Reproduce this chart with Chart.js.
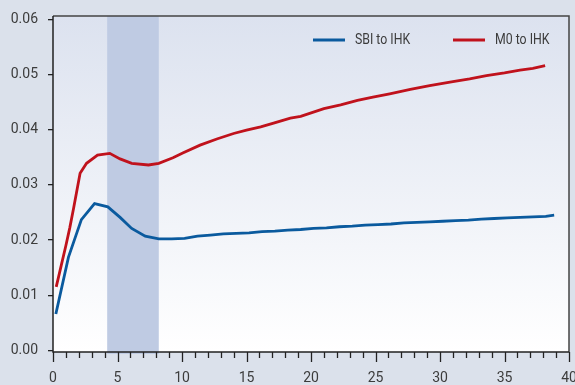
<!DOCTYPE html>
<html>
<head>
<meta charset="utf-8">
<script src="https://cdn.jsdelivr.net/npm/chart.js@4/dist/chart.umd.min.js"></script>
<style>
  html, body { margin: 0; padding: 0; background: #dbe1eb; }
  #wrap { width: 575px; height: 385px; }
</style>
</head>
<body>
<div id="wrap"><canvas id="c" width="575" height="385"></canvas></div>
<script>
// Horizon (x) and response values for each series
const sbiX = [0.22, 1.2, 2.2, 3.22, 4.25, 5.2, 6.1, 7.15, 8.2, 9.2, 10.2, 11.2, 12.2, 13.2, 14.2, 15.2, 16.2, 17.2, 18.2, 19.2, 20.2, 21.2, 22.2, 23.2, 24.2, 25.2, 26.2, 27.2, 28.2, 29.2, 30.2, 31.2, 32.2, 33.2, 34.2, 35.2, 36.2, 37.2, 38.2, 38.85];
const sbiY = [0.0066, 0.0169, 0.0237, 0.0266, 0.0260, 0.0241, 0.0221, 0.0207, 0.0202, 0.0202, 0.0203, 0.0207, 0.0209, 0.0211, 0.0212, 0.0213, 0.0215, 0.0216, 0.0218, 0.0219, 0.0221, 0.0222, 0.0224, 0.0225, 0.0227, 0.0228, 0.0229, 0.0231, 0.0232, 0.0233, 0.0234, 0.0235, 0.0236, 0.0238, 0.0239, 0.0240, 0.0241, 0.0242, 0.0243, 0.0245];

const m0X = [0.25, 0.64, 1.0, 1.3, 1.6, 2.1, 2.6, 3.45, 4.4, 5.2, 6.1, 7.4, 8.2, 9.3, 10.1, 11.4, 12.7, 14.0, 15.0, 16.1, 17.1, 18.4, 19.2, 21.0, 22.3, 23.6, 24.8, 26.1, 27.7, 29.2, 31.0, 32.3, 33.6, 35.0, 36.2, 37.2, 38.15];
const m0Y = [0.0115, 0.0154, 0.0190, 0.0222, 0.0258, 0.0321, 0.0339, 0.0354, 0.0357, 0.0347, 0.0339, 0.0336, 0.0339, 0.0349, 0.0358, 0.0372, 0.0383, 0.0393, 0.0399, 0.0405, 0.0412, 0.0421, 0.0424, 0.0438, 0.0445, 0.0453, 0.0459, 0.0465, 0.0473, 0.0480, 0.0487, 0.0492, 0.0498, 0.0503, 0.0508, 0.0511, 0.0516];

const seriesLabels = ['SBI to IHK', 'M0 to IHK'];
const seriesColors = ['#0a5a9e', '#c0121c'];

// Shaded period on the horizon axis
const bandRange = [4.2, 8.2];

// Axis ranges and ticks
const xRange = [0, 40];
const xMajorStep = 5;
const xMinorStep = 1;
const yRange = [-0.0003, 0.0606];
const yTicks = [0, 0.01, 0.02, 0.03, 0.04, 0.05, 0.06];

const FONT = 'Roboto, "Open Sans", sans-serif';
const TEXT = '#3c3c3c';
const AXIS = '#222222';

const toPoints = (xs, ys) => xs.map((x, i) => ({ x: x, y: ys[i] }));

const plotDecor = {
  id: 'plotDecor',
  beforeDraw(chart) {
    const { ctx, chartArea: a } = chart;
    ctx.save();
    const g = ctx.createLinearGradient(0, a.top, 0, a.bottom);
    g.addColorStop(0, '#dce2ef');
    g.addColorStop(1, '#ffffff');
    ctx.fillStyle = g;
    ctx.fillRect(a.left, a.top, a.right - a.left, a.bottom - a.top);
    ctx.restore();
  },
  beforeDatasetsDraw(chart) {
    const { ctx, chartArea: a, scales } = chart;
    const x0 = scales.x.getPixelForValue(bandRange[0]);
    const x1 = scales.x.getPixelForValue(bandRange[1]);
    ctx.save();
    ctx.fillStyle = '#bfcbe3';
    ctx.fillRect(x0, a.top, x1 - x0, a.bottom - a.top + 2);
    ctx.restore();
  },
  afterDraw(chart) {
    const { ctx, chartArea: a, scales } = chart;
    ctx.save();
    // frame: top and right
    ctx.strokeStyle = '#444444';
    ctx.lineWidth = 1.5;
    ctx.beginPath();
    ctx.moveTo(a.left, a.top);
    ctx.lineTo(a.right, a.top);
    ctx.lineTo(a.right, a.bottom);
    ctx.stroke();
    // left and bottom axis lines
    ctx.strokeStyle = AXIS;
    ctx.beginPath();
    ctx.moveTo(a.left, a.top);
    ctx.lineTo(a.left, a.bottom);
    ctx.lineTo(a.right, a.bottom);
    ctx.stroke();
    // x ticks: minor every unit, longer at labelled values
    ctx.lineWidth = 1.3;
    for (let v = xRange[0]; v <= xRange[1] + 1e-9; v += xMinorStep) {
      const px = Math.round(scales.x.getPixelForValue(v)) + 0.5;
      const len = (v % xMajorStep === 0) ? 10 : 6;
      ctx.beginPath();
      ctx.moveTo(px, a.bottom);
      ctx.lineTo(px, a.bottom + len);
      ctx.stroke();
    }
    // legend inside the plot, text set slightly condensed
    ctx.font = '15px ' + FONT;
    ctx.textBaseline = 'middle';
    ctx.fillStyle = TEXT;
    const items = [[313, 355], [453, 495]];
    chart.data.datasets.forEach((ds, i) => {
      const [lx, tx] = items[i];
      ctx.strokeStyle = ds.borderColor;
      ctx.lineWidth = 3;
      ctx.beginPath();
      ctx.moveTo(lx, 40);
      ctx.lineTo(lx + 32, 40);
      ctx.stroke();
      ctx.save();
      ctx.translate(tx, 40);
      ctx.scale(0.82, 1);
      ctx.fillText(ds.label, 0, 0);
      ctx.restore();
    });
    ctx.restore();
  }
};

new Chart(document.getElementById('c'), {
  type: 'line',
  data: {
    datasets: [
      { label: seriesLabels[0], data: toPoints(sbiX, sbiY), borderColor: seriesColors[0], borderWidth: 2.8, pointRadius: 0, tension: 0, fill: false },
      { label: seriesLabels[1], data: toPoints(m0X, m0Y), borderColor: seriesColors[1], borderWidth: 2.8, pointRadius: 0, tension: 0, fill: false }
    ]
  },
  options: {
    responsive: false,
    animation: false,
    layout: { padding: { top: 16, right: 6, left: 0, bottom: 0 } },
    plugins: { legend: { display: false }, tooltip: { enabled: false } },
    scales: {
      x: {
        type: 'linear',
        min: xRange[0],
        max: xRange[1],
        border: { display: false },
        grid: { display: false, drawOnChartArea: false },
        ticks: {
          stepSize: xMajorStep,
          color: TEXT,
          font: { family: FONT, size: 14 },
          padding: 10,
          maxRotation: 0,
          callback: v => String(v)
        },
        // let the last label run off the right edge instead of shrinking the plot
        afterFit(s) { s.height = 33; s.paddingRight = 0; s.paddingLeft = 0; }
      },
      y: {
        type: 'linear',
        min: yRange[0],
        max: yRange[1],
        afterBuildTicks(s) { s.ticks = yTicks.map(v => ({ value: v })); },
        border: { display: false },
        grid: { drawOnChartArea: false, drawTicks: true, tickLength: 5, tickColor: AXIS, lineWidth: 1.3 },
        ticks: {
          color: TEXT,
          font: { family: FONT, size: 14 },
          padding: 10,
          callback: v => v.toFixed(2)
        },
        afterFit(s) { s.width = 53; s.paddingTop = 0; s.paddingBottom = 0; }
      }
    }
  },
  plugins: [plotDecor]
});
</script>
</body>
</html>
